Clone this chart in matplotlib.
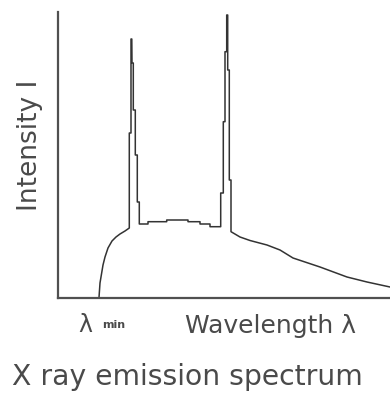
import matplotlib
matplotlib.use("Agg")
import matplotlib.pyplot as plt

# === Spectrum data (arbitrary units) ===
wavelength = [41.5, 42.5, 45.5, 47.5, 50.5, 54.5, 58.5, 62.5, 67.5, 71.8,
              71.8, 73.5, 73.5, 74.3, 74.5, 75.8, 75.8, 77.8, 77.8, 79.8,
              79.8, 81.8, 81.8, 90.5, 90.5, 109.2, 109.2, 130.5, 130.5, 142.5,
              142.5, 152.5, 152.5, 163.2,
              163.2, 165.8, 165.8, 167.5, 167.5, 169.2, 169.2, 170.2, 170.2, 171.8,
              171.8, 173.5, 173.5,
              182.5, 192.5, 209.5, 222.5, 235.5, 262.5, 289.5, 309.5, 332.5]
intensity = [0, 14.5, 32.5, 40.5, 49.5, 56.5, 60.5, 63.5, 66.5, 69.5,
             164.5, 164.5, 258.5, 258.5, 234.5, 234.5, 187.5, 187.5, 142.5, 142.5,
             95.5, 95.5, 73.5, 73.5, 75.8, 75.8, 77.5, 77.5, 75.8, 75.8,
             73.5, 73.5, 70.8, 70.8,
             104.5, 104.5, 175.8, 175.8, 245.8, 245.8, 282.5, 282.5, 227.5, 227.5,
             117.5, 117.5, 65.8,
             60.5, 57, 52.5, 47.5, 39.5, 30.5, 20.5, 15.5, 10.5]

W, H = 390, 396
fig = plt.figure(figsize=(W / 100, H / 100), dpi=100)
ax = fig.add_axes([57.5 / W, (H - 297.5) / H, (W - 57.5) / W, (297.5 - 12) / H])

ax.plot(wavelength, intensity, color="#333333", lw=1.1, clip_on=False)
ax.set_xlim(0, 332.5)
ax.set_ylim(0, 285.5)

for s in ["top", "right"]:
    ax.spines[s].set_visible(False)
for s in ["left", "bottom"]:
    ax.spines[s].set_color("#505050")
    ax.spines[s].set_linewidth(1.6)
ax.set_xticks([])
ax.set_yticks([])

# === Labels ===
txt = "#4a4a4a"
fig.text(30 / W, (H - 145) / H, "Intensity I", rotation=90, fontsize=19,
         color=txt, ha="center", va="center")
fig.text(185 / W, (H - 333) / H, "Wavelength λ", fontsize=18,
         color=txt, ha="left", va="baseline")
fig.text(78 / W, (H - 332) / H, "λ", fontsize=17,
         color=txt, ha="left", va="baseline")
fig.text(102 / W, (H - 328) / H, "min", fontsize=8, fontweight="bold",
         color=txt, ha="left", va="baseline")
fig.text(12 / W, (H - 385) / H, "X ray emission spectrum", fontsize=20.3,
         color=txt, ha="left", va="baseline")

fig.savefig("out.png", dpi=100, facecolor="white")
